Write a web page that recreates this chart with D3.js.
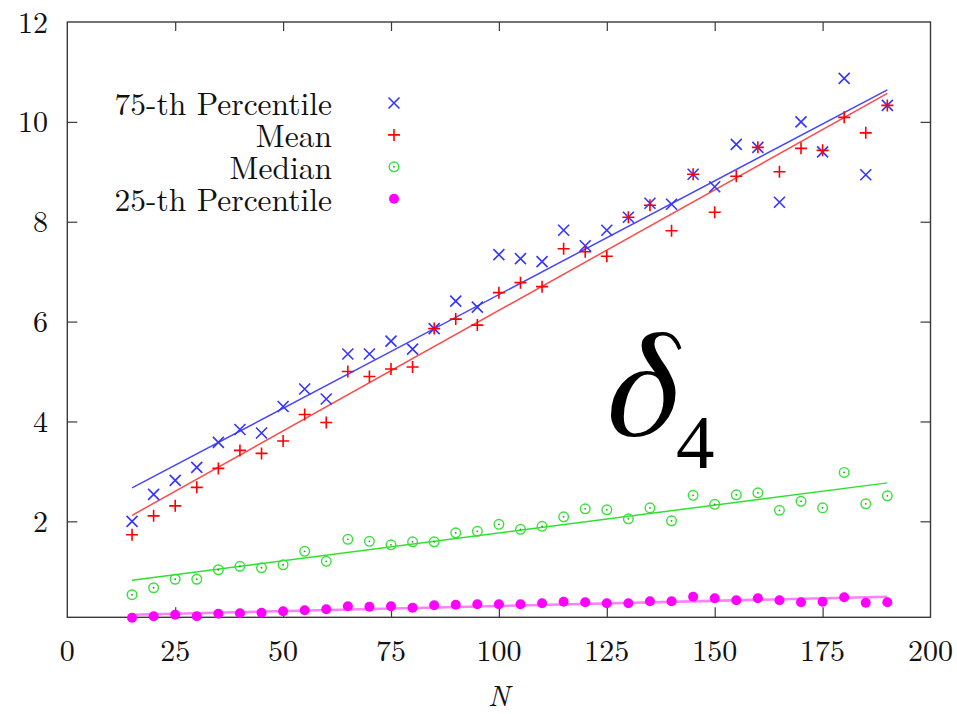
<!DOCTYPE html>
<html>
<head>
<meta charset="utf-8">
<script src="https://cdn.jsdelivr.net/npm/d3@7"></script>
<style>
	body { margin: 0; background: #fff; }
</style>
</head>
<body>
<div id="chart"></div>
<script>
let nValues = [15, 20, 25, 30, 35, 40, 45, 50, 55, 60, 65, 70, 75, 80, 85, 90, 95, 100,
	105, 110, 115, 120, 125, 130, 135, 140, 145, 150, 155, 160, 165, 170, 175, 180, 185, 190];

let p75Values = [2.00, 2.54, 2.82, 3.08, 3.58, 3.84, 3.77, 4.30, 4.65, 4.45, 5.35, 5.35,
	5.61, 5.45, 5.86, 6.41, 6.29, 7.34, 7.26, 7.20, 7.83, 7.52, 7.83, 8.09, 8.37, 8.35,
	8.95, 8.70, 9.55, 9.49, 8.39, 10.00, 9.40, 10.87, 8.94, 10.33];
let meanValues = [1.73, 2.11, 2.31, 2.68, 3.06, 3.42, 3.36, 3.61, 4.14, 3.98, 5.00, 4.90,
	5.05, 5.09, 5.86, 6.05, 5.93, 6.58, 6.78, 6.70, 7.46, 7.40, 7.31, 8.09, 8.33, 7.82,
	8.95, 8.19, 8.91, 9.49, 9.00, 9.47, 9.43, 10.09, 9.78, 10.33];
let medianValues = [0.53, 0.67, 0.84, 0.84, 1.03, 1.10, 1.07, 1.13, 1.40, 1.20, 1.64, 1.60,
	1.53, 1.59, 1.59, 1.77, 1.80, 1.94, 1.84, 1.90, 2.09, 2.25, 2.23, 2.05, 2.27, 2.01,
	2.52, 2.34, 2.53, 2.57, 2.22, 2.40, 2.27, 2.98, 2.35, 2.51];
let p25Values = [0.07, 0.10, 0.13, 0.10, 0.15, 0.16, 0.17, 0.20, 0.22, 0.24, 0.30, 0.29,
	0.30, 0.27, 0.32, 0.33, 0.34, 0.34, 0.34, 0.36, 0.39, 0.38, 0.36, 0.36, 0.40, 0.40,
	0.49, 0.46, 0.42, 0.46, 0.42, 0.38, 0.39, 0.48, 0.37, 0.38];

let fitN = [15, 190];
let p75Fit = [2.67, 10.64];
let meanFit = [2.12, 10.57];
let medianFit = [0.82, 2.77];
let p25Fit = [0.13, 0.49];

let legendLabels = ["75-th Percentile", "Mean", "Median", "25-th Percentile"];
let xTicks = [0, 25, 50, 75, 100, 125, 150, 175, 200];
let yTicks = [2, 4, 6, 8, 10, 12];

let svg;
let x, y;
let width = 957, height = 714;
let plot = { left: 67.3, right: 930.5, top: 22, bottom: 617.3 };
let cmFont = "Latin Modern Roman, Liberation Serif, serif";

//
//	drawMarker
//
//
drawMarker = function (g, kind, cx, cy) {
	if (kind === "cross") {
		let s = 5.5;
		g.append("path")
			.attr("d", "M" + (cx - s) + "," + (cy - s) + "L" + (cx + s) + "," + (cy + s) +
				"M" + (cx - s) + "," + (cy + s) + "L" + (cx + s) + "," + (cy - s))
			.attr("stroke", "#3535ff").attr("stroke-width", 1.6).attr("fill", "none");
	} else if (kind === "plus") {
		let s = 6;
		g.append("path")
			.attr("d", "M" + (cx - s) + "," + cy + "L" + (cx + s) + "," + cy +
				"M" + cx + "," + (cy - s) + "L" + cx + "," + (cy + s))
			.attr("stroke", "#ff0000").attr("stroke-width", 1.6).attr("fill", "none");
	} else if (kind === "odot") {
		g.append("circle").attr("cx", cx).attr("cy", cy).attr("r", 4.8)
			.attr("fill", "none").attr("stroke", "#38e038").attr("stroke-width", 1.4);
		g.append("circle").attr("cx", cx).attr("cy", cy).attr("r", 0.9).attr("fill", "#20a020");
	} else {
		g.append("circle").attr("cx", cx).attr("cy", cy).attr("r", 5).attr("fill", "#ff00ff");
	}
};

//
//	initD3
//
//
initD3 = function () {
	svg = d3.select("#chart").append("svg")
		.attr("width", width)
		.attr("height", height);

	x = d3.scaleLinear().domain([0, 200]).range([plot.left, plot.right]);
	y = d3.scaleLinear().domain([0.078, 12]).range([plot.bottom, plot.top]);

	// inward ticks on all four sides
	let axisColor = "#3a3a3a";
	svg.append("g").attr("transform", "translate(0," + plot.bottom + ")")
		.call(d3.axisBottom(x).tickValues(xTicks.slice(1, -1)).tickSize(-10).tickFormat(""));
	svg.append("g").attr("transform", "translate(0," + plot.top + ")")
		.call(d3.axisTop(x).tickValues(xTicks.slice(1, -1)).tickSize(-9).tickFormat(""));
	svg.append("g").attr("transform", "translate(" + plot.left + ",0)")
		.call(d3.axisLeft(y).tickValues(yTicks.slice(0, -1)).tickSize(-10).tickFormat(""));
	svg.append("g").attr("transform", "translate(" + plot.right + ",0)")
		.call(d3.axisRight(y).tickValues(yTicks.slice(0, -1)).tickSize(-10).tickFormat(""));
	svg.selectAll(".domain").remove();
	svg.selectAll(".tick line").attr("stroke", axisColor).attr("stroke-width", 1.2);

	svg.append("rect")
		.attr("x", plot.left).attr("y", plot.top)
		.attr("width", plot.right - plot.left).attr("height", plot.bottom - plot.top)
		.attr("fill", "none").attr("stroke", axisColor).attr("stroke-width", 1.4);

	// tick labels
	svg.selectAll(".xlab").data(xTicks).enter().append("text")
		.attr("x", (d) => x(d)).attr("y", 661)
		.attr("text-anchor", "middle").attr("font-size", 30)
		.attr("font-family", cmFont).attr("fill", "#111")
		.text((d) => d);
	svg.selectAll(".ylab").data(yTicks).enter().append("text")
		.attr("x", 48).attr("y", (d) => y(d) + 10.5)
		.attr("text-anchor", "end").attr("font-size", 30)
		.attr("font-family", cmFont).attr("fill", "#111")
		.text((d) => d);

	svg.append("text")
		.attr("x", (plot.left + plot.right) / 2).attr("y", 706)
		.attr("text-anchor", "middle").attr("font-size", 29).attr("font-style", "italic")
		.attr("font-family", cmFont).attr("fill", "#111")
		.text("N");
};

//
//	drawSeries
//
//
drawSeries = function () {
	let series = [
		{ values: p75Values, fit: p75Fit, marker: "cross", line: "#4646ff", lw: 1.5 },
		{ values: meanValues, fit: meanFit, marker: "plus", line: "#ff4a4a", lw: 1.5 },
		{ values: medianValues, fit: medianFit, marker: "odot", line: "#30e030", lw: 1.5 },
		{ values: p25Values, fit: p25Fit, marker: "dot", line: "#ff80ff", lw: 2.6 },
	];

	let line = d3.line().x((d) => x(d[0])).y((d) => y(d[1]));

	series.forEach((s) => {
		svg.append("path")
			.datum(fitN.map((n, i) => [n, s.fit[i]]))
			.attr("d", line)
			.attr("fill", "none")
			.attr("stroke", s.line)
			.attr("stroke-width", s.lw);
	});

	series.forEach((s) => {
		let g = svg.append("g");
		for (let i = 0; i < nValues.length; i++) {
			drawMarker(g, s.marker, x(nValues[i]), y(s.values[i]));
		}
	});

	// legend
	let legend = svg.append("g");
	for (let i = 0; i < legendLabels.length; i++) {
		let base = 115 + i * 31.9;
		legend.append("text")
			.attr("x", 332).attr("y", base)
			.attr("text-anchor", "end").attr("font-size", 31.5)
			.attr("font-family", cmFont).attr("fill", "#111")
			.text(legendLabels[i]);
		drawMarker(legend, series[i].marker, 394, base - 12);
	}

	// delta label (FreeSerif has an italic greek delta close to the original)
	svg.append("text").attr("x", 607).attr("y", 435)
		.attr("font-family", "FreeSerif, Liberation Serif, serif")
		.attr("font-style", "italic").attr("font-size", 153).attr("fill", "#000")
		.text("δ");
	svg.append("text").attr("x", 676).attr("y", 468)
		.attr("font-family", "Liberation Serif, FreeSerif, serif")
		.attr("font-size", 77).attr("fill", "#000")
		.text("4");
};

initD3();
drawSeries();
</script>
</body>
</html>
